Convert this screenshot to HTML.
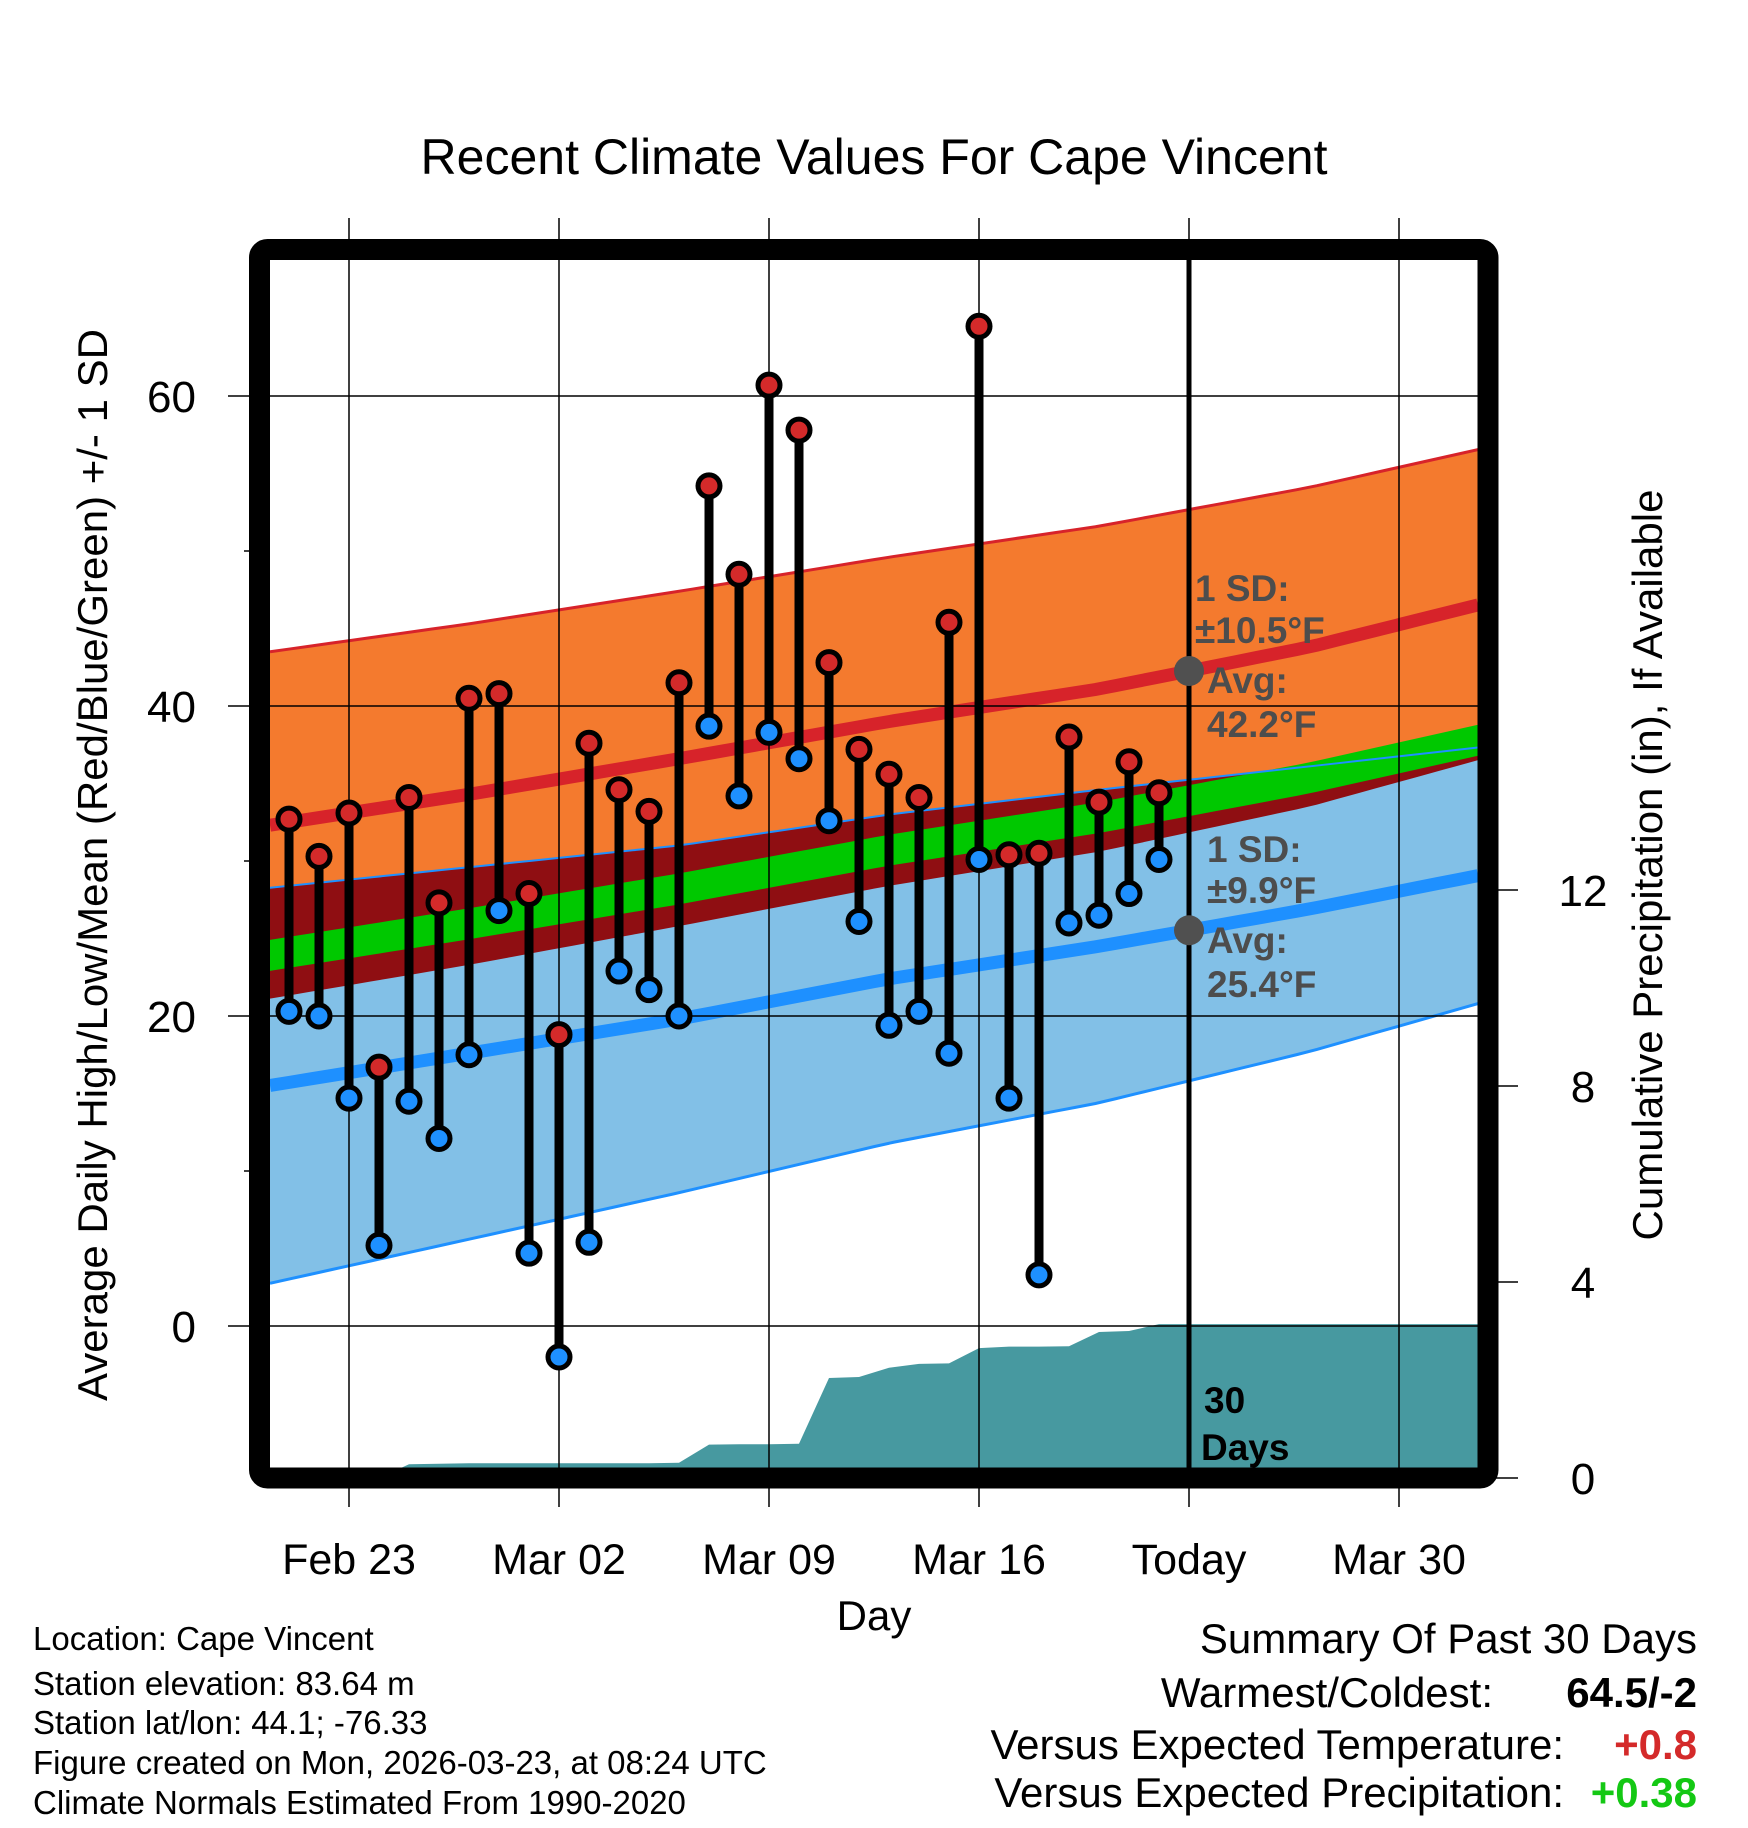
<!DOCTYPE html>
<html><head><meta charset="utf-8"><title>Recent Climate Values For Cape Vincent</title>
<style>
html,body{margin:0;padding:0;background:#fff;}
svg{display:block;font-family:"Liberation Sans",Arial,sans-serif;}
</style></head>
<body>
<svg id="chart" width="1748" height="1828" viewBox="0 0 1748 1828" xmlns="http://www.w3.org/2000/svg">
<rect width="1748" height="1828" fill="#fff"/>
<g id="plot"></g>
<text x="874" y="174" font-size="50" text-anchor="middle">Recent Climate Values For Cape Vincent</text>
<text x="874" y="1630" font-size="42" text-anchor="middle">Day</text>
<text transform="translate(107,865) rotate(-90)" font-size="42" text-anchor="middle">Average Daily High/Low/Mean (Red/Blue/Green) +/- 1 SD</text>
<text transform="translate(1662,865) rotate(-90)" font-size="42" text-anchor="middle">Cumulative Precipitation (in), If Available</text>
<g font-size="33">
<text x="33" y="1650">Location: Cape Vincent</text>
<text x="33" y="1695">Station elevation: 83.64 m</text>
<text x="33" y="1734">Station lat/lon: 44.1; -76.33</text>
<text x="33" y="1774">Figure created on Mon, 2026-03-23, at 08:24 UTC</text>
<text x="33" y="1814">Climate Normals Estimated From 1990-2020</text>
</g>
<g font-size="42" text-anchor="end">
<text x="1697" y="1653">Summary Of Past 30 Days</text>
<text x="1493" y="1707">Warmest/Coldest:</text>
<text x="1697" y="1707" font-weight="bold">64.5/-2</text>
<text x="1564" y="1759">Versus Expected Temperature:</text>
<text x="1697" y="1759" font-weight="bold" fill="#d42a2a">+0.8</text>
<text x="1564" y="1807">Versus Expected Precipitation:</text>
<text x="1697" y="1807" font-weight="bold" fill="#14c814">+0.38</text>
</g>
</svg>
<script>
// ---- data ----
const dayLabels = ["Feb 21","Feb 22","Feb 23","Feb 24","Feb 25","Feb 26","Feb 27","Feb 28","Mar 01","Mar 02","Mar 03","Mar 04","Mar 05","Mar 06","Mar 07","Mar 08","Mar 09","Mar 10","Mar 11","Mar 12","Mar 13","Mar 14","Mar 15","Mar 16","Mar 17","Mar 18","Mar 19","Mar 20","Mar 21","Mar 22"];
const highs = [32.7,30.3,33.1,16.7,34.1,27.3,40.5,40.8,27.9,18.8,37.6,34.6,33.2,41.5,54.2,48.5,60.7,57.8,42.8,37.2,35.6,34.1,45.4,64.5,30.4,30.5,38.0,33.8,36.4,34.4];
const lows = [20.3,20.0,14.7,5.2,14.5,12.1,17.5,26.8,4.7,-2.0,5.4,22.9,21.7,20.0,38.7,34.2,38.3,36.6,32.6,26.1,19.4,20.3,17.6,30.1,14.7,3.3,26.0,26.5,27.9,30.1];
const precip = [0,0,0,0,0.28,0.29,0.3,0.3,0.3,0.3,0.3,0.3,0.3,0.31,0.68,0.69,0.69,0.7,2.04,2.06,2.25,2.33,2.34,2.65,2.68,2.68,2.69,2.98,3.0,3.14];
// normals at anchor days (days offset from Feb 23)
const normDays = [-3,4,11,18,25,32,38];
const normHigh = [32.2,34.3,36.6,39.0,41.1,43.8,46.7];
const normHighSD = [11.2,11.0,10.8,10.6,10.5,10.3,10.0];
const normLow = [15.4,17.6,19.8,22.4,24.5,26.9,29.2];
const normLowSD = [12.8,12.0,11.2,10.6,10.1,9.2,8.2];
const xTickLabels = ["Feb 23","Mar 02","Mar 09","Mar 16","Today","Mar 30"];
const xTickDays = [0,7,14,21,28,35];
const yTicks = [0,20,40,60];
const yMinorTicks = [10,30,50];
const y2Ticks = [0,4,8,12];
const todayDay = 28;
const firstDay = -2;

// ---- scales ----
const L=270,R=1478,T=260,B=1468;
const X = d => 349 + d*30;
const Y = t => 1326 - t*15.5;
const Y2 = p => 1478 - p*49;
const dMin=(L-349)/30, dMax=(R-349)/30;
const NS='http://www.w3.org/2000/svg';
const plot=document.getElementById('plot');
function mk(tag,attrs,parent){const e=document.createElementNS(NS,tag);for(const k in attrs)e.setAttribute(k,attrs[k]);(parent||plot).appendChild(e);return e;}
function interp(arr,d){for(let i=0;i<normDays.length-1;i++){if(d<=normDays[i+1]||i===normDays.length-2){const f=(d-normDays[i])/(normDays[i+1]-normDays[i]);return arr[i]+f*(arr[i+1]-arr[i]);}}}
const samp=[];for(let i=0;i<=60;i++)samp.push(dMin+(dMax-dMin)*i/60);
const hiU=d=>interp(normHigh,d)+interp(normHighSD,d), hiL=d=>interp(normHigh,d)-interp(normHighSD,d);
const loU=d=>interp(normLow,d)+interp(normLowSD,d), loL=d=>interp(normLow,d)-interp(normLowSD,d);
const mean=d=>(interp(normHigh,d)+interp(normLow,d))/2;
function band(fu,fl){let p=samp.map(d=>X(d)+','+Y(fu(d)));p=p.concat(samp.slice().reverse().map(d=>X(d)+','+Y(fl(d))));return p.join(' ');}
function line(f){return samp.map(d=>X(d)+','+Y(f(d))).join(' ');}

const clip=mk('clipPath',{id:'pc'});mk('rect',{x:L,y:T,width:R-L,height:B-T},clip);
const g=mk('g',{'clip-path':'url(#pc)'});

let e;
e=mk('polygon',{points:band(hiU,hiL),fill:'#f47a2e'},g);


e=mk('polygon',{points:band(loU,loL),fill:'#82c0e7'},g);


e=mk('polygon',{points:band(loU,hiL),fill:'#8f0e12'},g);


e=mk('polygon',{points:band(d=>mean(d)+1,d=>mean(d)-1),fill:'#00c800'},g);


e=mk('polyline',{points:line(hiU),fill:'none',stroke:'#d7232a','stroke-width':3},g);


e=mk('polyline',{points:line(loU),fill:'none',stroke:'#1e90ff','stroke-width':2},g);


e=mk('polyline',{points:line(loL),fill:'none',stroke:'#1e90ff','stroke-width':3},g);


e=mk('polyline',{points:line(d=>interp(normHigh,d)),fill:'none',stroke:'#d7232a','stroke-width':13},g);


e=mk('polyline',{points:line(d=>interp(normLow,d)),fill:'none',stroke:'#1e90ff','stroke-width':13},g);



// precipitation area
let pp=[X(dMin)+','+Y2(0)];
precip.forEach((v,i)=>pp.push(X(firstDay+i)+','+Y2(v)));
pp.push(X(dMax)+','+Y2(precip[precip.length-1]));pp.push(X(dMax)+','+Y2(0));
e=mk('polygon',{points:pp.join(' '),fill:'#4799a0'},g);



// gridlines
yTicks.forEach(t=>{const l=mk('line',{x1:228,x2:R,y1:Y(t),y2:Y(t),stroke:'#000','stroke-width':1.5});


const tx=mk('text',{x:196,y:Y(t)+16,'font-size':44,'text-anchor':'end'});tx.textContent=t;

});
yMinorTicks.forEach(t=>{const l=mk('line',{x1:244,x2:L,y1:Y(t),y2:Y(t),stroke:'#000','stroke-width':1.5});

});
xTickDays.forEach((d,i)=>{const l=mk('line',{x1:X(d),x2:X(d),y1:218,y2:1507,stroke:'#000','stroke-width':1.5});


const tx=mk('text',{x:X(d),y:1574,'font-size':43,'text-anchor':'middle'});tx.textContent=xTickLabels[i];

});
y2Ticks.forEach(p=>{const l=mk('line',{x1:1490,x2:1518,y1:Y2(p),y2:Y2(p),stroke:'#000','stroke-width':1.5});


const tx=mk('text',{x:1583,y:Y2(p)+16,'font-size':44,'text-anchor':'middle'});tx.textContent=p;

});

// today line
e=mk('line',{x1:X(todayDay),x2:X(todayDay),y1:260,y2:1470,stroke:'#000','stroke-width':5});



// high/low stems and dots
highs.forEach((h,i)=>{const x=X(firstDay+i);
const s=mk('line',{x1:x,x2:x,y1:Y(h),y2:Y(lows[i]),stroke:'#000','stroke-width':9});


const c1=mk('circle',{cx:x,cy:Y(h),r:11,fill:'#d42a2a',stroke:'#000','stroke-width':5});


const c2=mk('circle',{cx:x,cy:Y(lows[i]),r:11,fill:'#1e90ff',stroke:'#000','stroke-width':5});

});

// today markers
e=mk('circle',{cx:X(todayDay),cy:Y(interp(normHigh,todayDay)),r:15,fill:'#505050'});


e=mk('circle',{cx:X(todayDay),cy:Y(interp(normLow,todayDay)),r:15,fill:'#505050'});



// annotations
const ann=[["1 SD:",1195,601],["\u00B110.5\u00B0F",1195,643],["Avg:",1207,693],["42.2\u00B0F",1207,737],["1 SD:",1207,862],["\u00B19.9\u00B0F",1207,903],["Avg:",1207,953],["25.4\u00B0F",1207,997]];
ann.forEach(a=>{const t=mk('text',{x:a[1],y:a[2],'font-size':37,'font-weight':'bold',fill:'#4d4d4d'});t.textContent=a[0];

});
e=mk('text',{x:1204,y:1413,'font-size':37,'font-weight':'bold',fill:'#000'});e.textContent='30';


e=mk('text',{x:1201,y:1460,'font-size':37,'font-weight':'bold',fill:'#000'});e.textContent='Days';



// frame
e=mk('rect',{x:259.5,y:249.5,width:1228.5,height:1228.5,fill:'none',stroke:'#000','stroke-width':21,rx:8});


</script>
</body></html>
